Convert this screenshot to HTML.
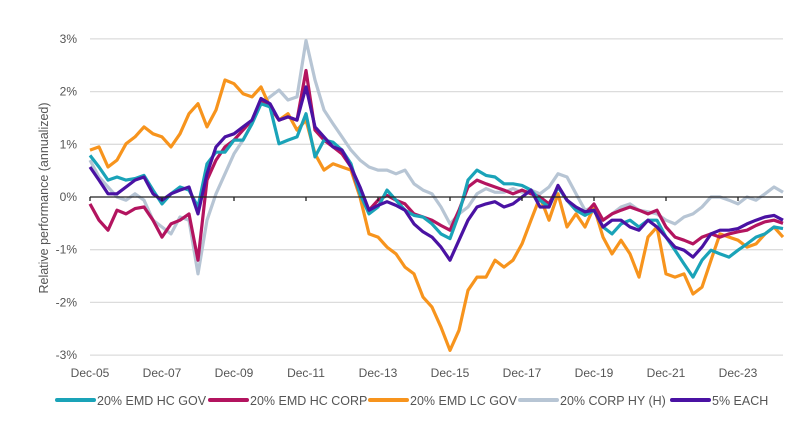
<!DOCTYPE html>
<html><head><meta charset="utf-8"><style>
body{margin:0;background:#fff;font-family:"Liberation Sans",sans-serif}
svg text{font-family:"Liberation Sans",sans-serif;fill:#555}
</style></head><body>
<svg id="chart" width="800" height="442" viewBox="0 0 800 442" xmlns="http://www.w3.org/2000/svg">
<g id="grid"></g><g id="series"></g><g id="axes"></g><g id="legend"></g>
<text transform="translate(48,198) rotate(-90)" text-anchor="middle" font-size="12.5">Relative performance (annualized)</text>
</svg>
<script>
const yTicks=[3,2,1,0,-1,-2,-3];
const yTickLabels=["3%","2%","1%","0%","-1%","-2%","-3%"];
const xTickLabels=["Dec-05","Dec-07","Dec-09","Dec-11","Dec-13","Dec-15","Dec-17","Dec-19","Dec-21","Dec-23"];
const xTickIdx=[0,8,16,24,32,40,48,56,64,72];
const seriesNames=["20% EMD HC GOV","20% EMD HC CORP","20% EMD LC GOV","20% CORP HY (H)","5% EACH"];
const hcGov=[.79,.57,.32,.38,.32,.35,.41,.13,-.13,.06,.19,.13,-.19,.63,.85,.85,1.08,1.08,1.39,1.77,1.71,1.01,1.08,1.14,1.58,.76,1.08,1.04,.89,.63,.06,-.32,-.19,.13,-.06,-.25,-.35,-.38,-.51,-.70,-.79,-.32,.32,.51,.41,.38,.25,.25,.22,.13,-.06,-.19,.19,-.06,-.25,-.35,-.25,-.57,-.70,-.51,-.44,-.57,-.44,-.44,-.76,-1.01,-1.27,-1.52,-1.20,-1.01,-1.08,-1.14,-1.01,-.89,-.76,-.70,-.57,-.60];
const hcCorp=[-.13,-.44,-.63,-.25,-.32,-.22,-.19,-.44,-.76,-.51,-.44,-.32,-1.20,.32,.70,.95,1.08,1.27,1.46,1.84,1.71,1.46,1.52,1.46,2.4,1.27,1.08,.95,.82,.57,.06,-.25,-.06,.03,-.06,-.13,-.32,-.38,-.44,-.54,-.63,-.25,.19,.32,.25,.19,.13,.06,.13,.06,0,-.13,.19,-.06,-.25,-.32,-.13,-.44,-.32,-.25,-.19,-.25,-.32,-.25,-.57,-.76,-.82,-.89,-.76,-.70,-.76,-.70,-.66,-.63,-.54,-.47,-.44,-.50];
const lcGov=[.89,.95,.57,.70,1.01,1.14,1.33,1.20,1.14,.95,1.20,1.58,1.77,1.33,1.65,2.22,2.15,1.96,1.90,2.09,1.71,1.46,1.58,1.27,1.46,.82,.51,.63,.57,.51,0,-.70,-.76,-.95,-1.08,-1.33,-1.46,-1.90,-2.09,-2.47,-2.91,-2.53,-1.77,-1.52,-1.52,-1.20,-1.33,-1.20,-.89,-.44,0,-.44,.06,-.57,-.32,-.57,-.19,-.76,-1.08,-.82,-1.08,-1.52,-.76,-.57,-1.46,-1.52,-1.46,-1.84,-1.71,-1.20,-.70,-.76,-.82,-.95,-.89,-.70,-.57,-.76];
const corpHy=[.70,.38,.19,0,-.06,.06,-.06,-.44,-.57,-.70,-.38,-.44,-1.46,-.44,.06,.44,.82,1.08,1.39,1.77,1.90,2.03,1.84,1.90,2.97,2.22,1.65,1.39,1.14,.89,.70,.57,.51,.51,.44,.51,.25,.13,.06,-.19,-.51,-.32,-.19,.06,.16,.09,.09,.16,.09,.13,.06,.19,.44,.38,.06,-.25,-.19,-.44,-.32,-.19,-.13,-.25,-.28,-.32,-.44,-.51,-.38,-.32,-.19,0,0,-.06,-.13,0,-.06,.06,.19,.09];
const each5=[.57,.32,.06,.06,.19,.32,.38,.06,-.06,.06,.13,.19,-.32,.44,.95,1.14,1.20,1.33,1.46,1.87,1.77,1.46,1.52,1.46,2.09,1.33,1.14,.95,.89,.57,.19,-.25,-.16,-.09,-.16,-.25,-.51,-.66,-.76,-.95,-1.20,-.82,-.44,-.19,-.13,-.09,-.19,-.13,0,.13,-.19,-.19,.22,-.06,-.19,-.28,-.25,-.57,-.44,-.44,-.57,-.63,-.44,-.57,-.76,-.95,-1.01,-1.14,-.95,-.70,-.63,-.63,-.60,-.51,-.44,-.38,-.35,-.44];
const allSeries=[hcGov,hcCorp,lcGov,corpHy,each5];
const colors=["#1aa3b8","#b3145f","#f7941d","#b7c5d4","#4a12a3"];
const drawOrder=[3,2,1,0,4];
const NS="http://www.w3.org/2000/svg";
const X0=90,X1=783,Y0=197,PPU=52.7,N=77;
function xs(i){return X0+(X1-X0)*i/N;}
function ys(v){return Y0-v*PPU;}
function mk(t,a,p){const e=document.createElementNS(NS,t);for(const k in a)e.setAttribute(k,a[k]);p.appendChild(e);return e;}
const grid=document.getElementById('grid'),axes=document.getElementById('axes'),ser=document.getElementById('series'),leg=document.getElementById('legend');
yTicks.forEach((v,k)=>{
  if(v!==0){const l=mk('line',{x1:X0,x2:X1,y1:ys(v),y2:ys(v),stroke:'#dcdcdc','stroke-width':1.3},grid);
  
  }
  const t=mk('text',{x:77,y:ys(v)+4,'text-anchor':'end','font-size':12},axes);t.textContent=yTickLabels[k];
  
  
});
xTickIdx.forEach((ix,k)=>{
  const t=mk('text',{x:xs(ix),y:377,'text-anchor':'middle','font-size':12},axes);t.textContent=xTickLabels[k];
  
  
});
drawOrder.forEach(s=>{
  const d=allSeries[s].map((v,i)=>(i?'L':'M')+xs(i).toFixed(1)+','+ys(v).toFixed(1)).join('');
  const p=mk('path',{d:d,fill:'none',stroke:colors[s],'stroke-width':3.2,'stroke-linejoin':'round'},ser);
  
  
});
const z=mk('line',{x1:X0,x2:X1,y1:Y0,y2:Y0,stroke:'#222','stroke-width':1.3},axes);


xTickIdx.forEach(ix=>{const tk=mk('line',{x1:xs(ix),x2:xs(ix),y1:Y0,y2:Y0+4,stroke:'#222','stroke-width':1.3},axes);
  
  });
const legX=[57,210,370,520,672];
seriesNames.forEach((n,s)=>{
  const g=mk('g',{},leg);
  
  
  mk('line',{x1:legX[s],x2:legX[s]+37,y1:400,y2:400,stroke:colors[s],'stroke-width':4,'stroke-linecap':'round'},g);
  const t=mk('text',{x:legX[s]+40,y:405,'font-size':12.5},g);t.textContent=n;
});
</script>
</body></html>
